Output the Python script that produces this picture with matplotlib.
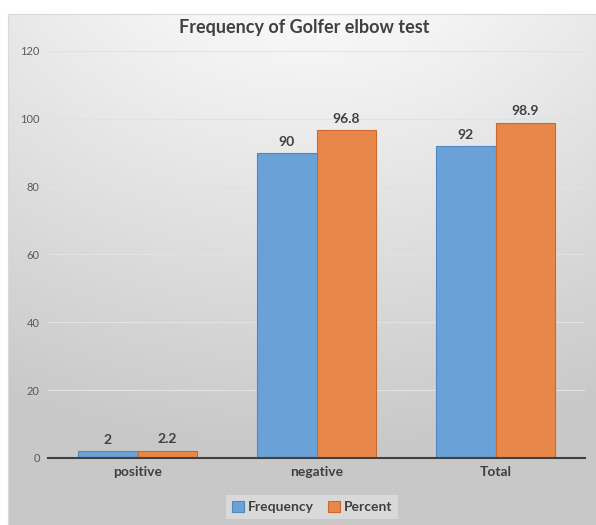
import numpy as np
import matplotlib
matplotlib.use("Agg")
import matplotlib.pyplot as plt

categories = ["positive", "negative", "Total"]
frequency = [2, 90, 92]
percent = [2.2, 96.8, 98.9]
yticks = [0, 20, 40, 60, 80, 100, 120]

plt.rcParams["font.family"] = ["Lato", "DejaVu Sans"]

W, H = 596, 525
fig = plt.figure(figsize=(W / 100, H / 100), dpi=100)
fig.patch.set_facecolor("white")

# chart area with radial gray gradient
bx0, by0 = 8, 14
bg = fig.add_axes([bx0 / W, 0, (W - bx0) / W, (H - by0) / H])
gx, gy = np.meshgrid(np.linspace(0, W - bx0, 300), np.linspace(0, H - by0, 300))
d = np.sqrt(((gx - 300) / 1.25) ** 2 + (gy + 120) ** 2)
d = (d - 120) / (560 - 120)
d = np.clip(d, 0, 1)
shade = 0.975 - 0.19 * d
bg.imshow(np.dstack([shade] * 3), extent=[0, 1, 0, 1], aspect="auto", origin="upper")
bg.set_xticks([])
bg.set_yticks([])
for s in bg.spines.values():
    s.set_color("#d9d9d9")
    s.set_linewidth(0.8)

ax = fig.add_axes([48 / W, (H - 458) / H, (585 - 48) / W, (458 - 51) / H])
ax.patch.set_alpha(0)

x = np.arange(len(categories))
w = 0.33
b1 = ax.bar(x - w / 2, frequency, w, color="#6aa2d8", edgecolor="#4f88c0",
            linewidth=0.8, label="Frequency", zorder=3)
b2 = ax.bar(x + w / 2, percent, w, color="#e8874a", edgecolor="#c96a2c",
            linewidth=0.8, label="Percent", zorder=3)

for bars, vals in ((b1, frequency), (b2, percent)):
    for r, v in zip(bars, vals):
        ax.text(r.get_x() + r.get_width() / 2, v + 1.5, f"{v:g}", ha="center",
                va="bottom", fontsize=10, fontweight="bold", color="#404040")

ax.set_xlim(-0.5, 2.5)
ax.set_ylim(0, 120)
ax.set_yticks(yticks)
ax.set_yticklabels([str(t) for t in yticks], fontsize=8, color="#595959")
ax.set_xticks(x)
ax.set_xticklabels(categories, fontsize=10, fontweight="bold", color="#404040")
ax.tick_params(axis="both", length=0)
ax.tick_params(axis="y", pad=6)
ax.tick_params(axis="x", pad=6)
ax.grid(axis="y", color="#e2e2e2", linewidth=0.8, zorder=0)
for side in ("left", "right", "top"):
    ax.spines[side].set_visible(False)
ax.spines["bottom"].set_color("#404040")
ax.spines["bottom"].set_linewidth(1.5)
ax.spines["bottom"].set_zorder(4)

fig.text(304 / W, 1 - 27 / H, "Frequency of Golfer elbow test", ha="center",
         va="center", fontsize=13, fontweight="bold", color="#404040")

leg = fig.legend(loc="center", bbox_to_anchor=(312 / W, 1 - 507 / H), ncol=2,
                 frameon=True, fontsize=10, handlelength=0.9, handleheight=0.9,
                 handletextpad=0.25, columnspacing=1.0, borderpad=0.4)
leg.get_frame().set_facecolor("#dedede")
leg.get_frame().set_edgecolor("none")
leg.get_frame().set_boxstyle("square", pad=0.0)
for t in leg.get_texts():
    t.set_color("#404040")
    t.set_fontweight("bold")

fig.savefig("out.png", dpi=100)
